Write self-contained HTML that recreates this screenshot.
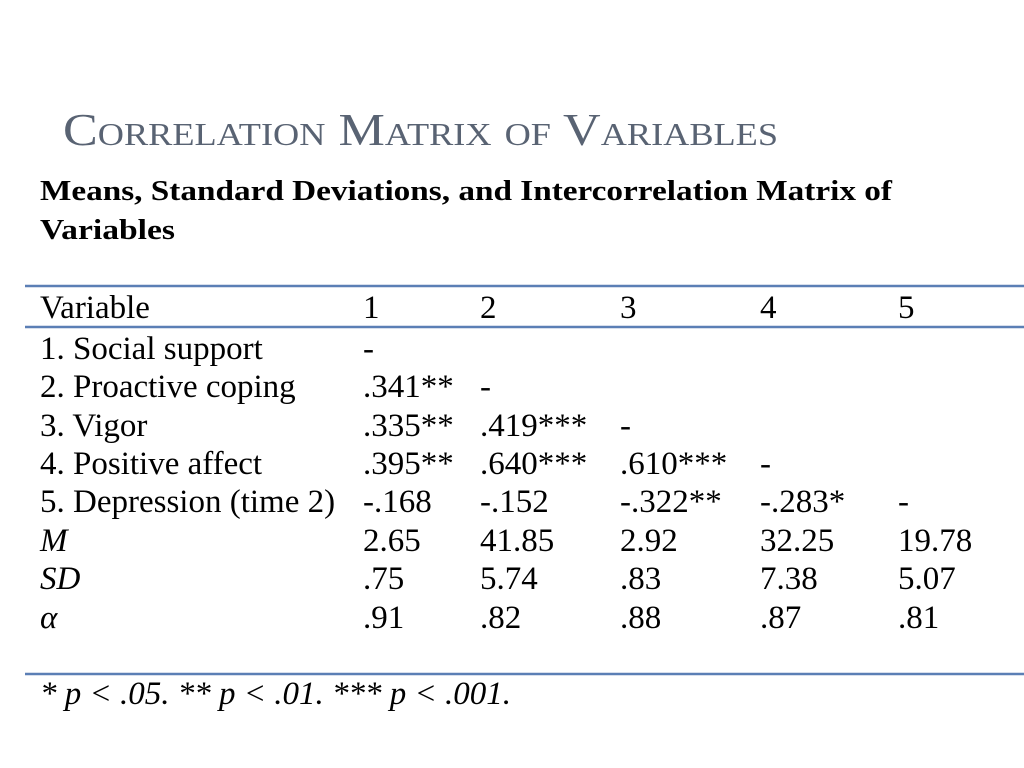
<!DOCTYPE html>
<html><head><meta charset="utf-8"><style>
html,body{margin:0;padding:0;background:#fff;}
svg{display:block}
text{font-family:"Liberation Serif",serif;fill:#000;font-size:33px}
</style></head><body>
<svg width="1024" height="768" xmlns="http://www.w3.org/2000/svg">
<text x="63" y="145" style="font-size:46px;font-variant:small-caps;fill:#596373" textLength="715" lengthAdjust="spacingAndGlyphs">Correlation Matrix of Variables</text>
<text x="40" y="200" style="font-weight:bold;font-size:29px" textLength="852" lengthAdjust="spacingAndGlyphs">Means, Standard Deviations, and Intercorrelation Matrix of</text>
<text x="40" y="239" style="font-weight:bold;font-size:29px" textLength="135" lengthAdjust="spacingAndGlyphs">Variables</text>
<g stroke="#5b7fb5" stroke-width="2.5">
<line x1="25" y1="286" x2="1024" y2="286"/>
<line x1="25" y1="327" x2="1024" y2="327"/>
<line x1="25" y1="674" x2="1024" y2="674"/>
</g>
<g>
<text x="40" y="318">Variable</text><text x="363" y="318">1</text><text x="480" y="318">2</text><text x="620" y="318">3</text><text x="760" y="318">4</text><text x="898" y="318">5</text>
<text x="40" y="359">1. Social support</text><text x="363" y="359">-</text>
<text x="40" y="397">2. Proactive coping</text><text x="363" y="397">.341**</text><text x="480" y="397">-</text>
<text x="40" y="436">3. Vigor</text><text x="363" y="436">.335**</text><text x="480" y="436">.419***</text><text x="620" y="436">-</text>
<text x="40" y="474">4. Positive affect</text><text x="363" y="474">.395**</text><text x="480" y="474">.640***</text><text x="620" y="474">.610***</text><text x="760" y="474">-</text>
<text x="40" y="512">5. Depression (time 2)</text><text x="363" y="512">-.168</text><text x="480" y="512">-.152</text><text x="620" y="512">-.322**</text><text x="760" y="512">-.283*</text><text x="898" y="512">-</text>
<text x="40" y="551" font-style="italic">M</text><text x="363" y="551">2.65</text><text x="480" y="551">41.85</text><text x="620" y="551">2.92</text><text x="760" y="551">32.25</text><text x="898" y="551">19.78</text>
<text x="40" y="589" font-style="italic">SD</text><text x="363" y="589">.75</text><text x="480" y="589">5.74</text><text x="620" y="589">.83</text><text x="760" y="589">7.38</text><text x="898" y="589">5.07</text>
<text x="40" y="628" font-style="italic">α</text><text x="363" y="628">.91</text><text x="480" y="628">.82</text><text x="620" y="628">.88</text><text x="760" y="628">.87</text><text x="898" y="628">.81</text>
<text x="40" y="704" font-style="italic">* p &lt; .05. ** p &lt; .01. *** p &lt; .001.</text>
</g>
</svg>
</body></html>
